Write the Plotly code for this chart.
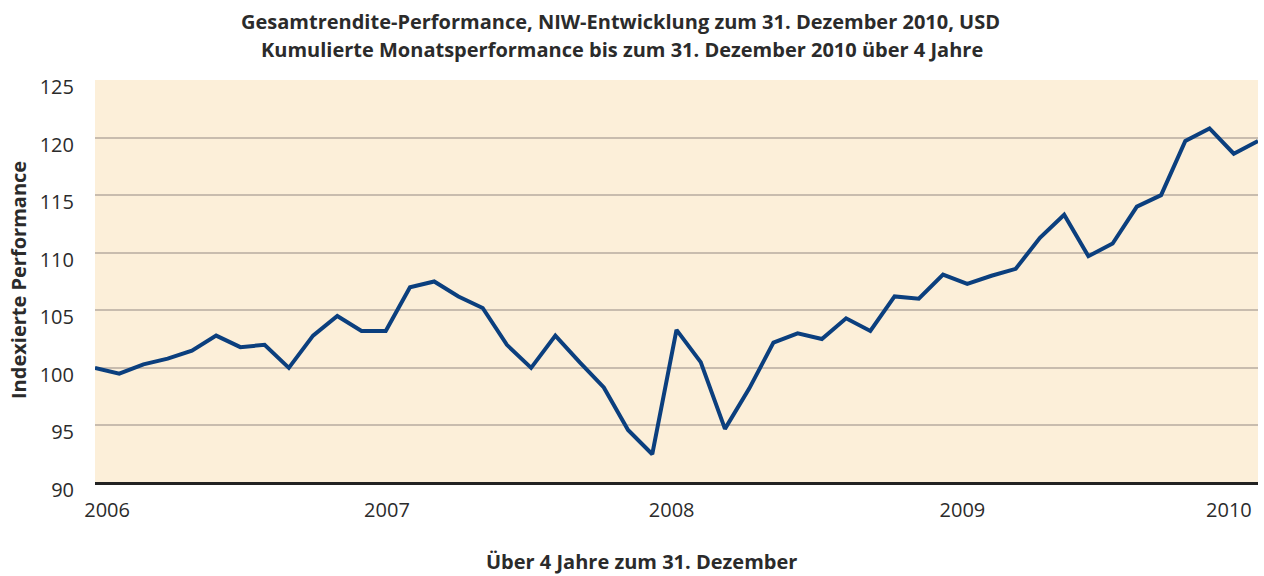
import plotly.graph_objects as go

# Monthly index values, 49 points (start = 100)
months = list(range(49))
performance = [
    100.0, 99.5, 100.3, 100.8, 101.5, 102.8, 101.8, 102.0, 100.0, 102.8,
    104.5, 103.2, 103.2, 107.0, 107.5, 106.2, 105.2, 102.0, 100.0, 102.8,
    100.5, 98.3, 94.6, 92.5, 103.3, 100.5, 94.7, 98.2, 102.2, 103.0,
    102.5, 104.3, 103.2, 106.2, 106.0, 108.1, 107.3, 108.0, 108.6, 111.3,
    113.3, 109.7, 110.8, 114.0, 115.0, 119.7, 120.8, 118.6, 119.7,
]
year_labels = ["2006", "2007", "2008", "2009", "2010"]
year_tick_pos = [0.5, 12.05, 23.8, 35.8, 46.8]
y_ticks = [90, 95, 100, 105, 110, 115, 120, 125]

FONT = "Open Sans"
TXT = "#2b2b2b"

fig = go.Figure()
fig.add_trace(go.Scatter(
    x=months, y=performance, mode="lines",
    line=dict(color="#0b3f7e", width=4),
    hoverinfo="skip", showlegend=False,
))

fig.update_layout(
    width=1264, height=576,
    margin=dict(l=95, r=6, t=80, b=93),
    paper_bgcolor="white",
    plot_bgcolor="#fcefd9",
    font=dict(family=FONT, size=19, color=TXT),
    xaxis=dict(
        range=[0, 48], tickmode="array", tickvals=year_tick_pos, ticktext=year_labels,
        showgrid=False, zeroline=False, showline=True, linecolor="#222222", linewidth=2,
        ticks="", ticklen=0, tickfont=dict(size=20, color=TXT),
        ticklabelstandoff=8,
    ),
    yaxis=dict(
        range=[90, 125], tickmode="array", tickvals=y_ticks,
        showgrid=True, gridcolor="#c8bcae", gridwidth=1.5, zeroline=False,
        showline=False, ticks="", tickfont=dict(size=20, color=TXT),
        ticklabelstandoff=20, ticklabelshift=7,
    ),
    shapes=[dict(type="line", xref="paper", yref="y", x0=0, x1=1, y0=90, y1=90,
                 line=dict(color="#222222", width=2), layer="above")],
    annotations=[
        dict(text="<b>Gesamtrendite-Performance, NIW-Entwicklung zum 31. Dezember 2010, USD</b>",
             x=620, y=22, xref="paper", yref="paper", showarrow=False,
             font=dict(size=20, color=TXT), xanchor="center", yanchor="middle"),
        dict(text="<b>Kumulierte Monatsperformance bis zum 31. Dezember 2010 über 4 Jahre</b>",
             x=622, y=50, xref="paper", yref="paper", showarrow=False,
             font=dict(size=20, color=TXT), xanchor="center", yanchor="middle"),
        dict(text="<b>Über 4 Jahre zum 31. Dezember</b>",
             x=641, y=561, xref="paper", yref="paper", showarrow=False,
             font=dict(size=20, color=TXT), xanchor="center", yanchor="middle"),
        dict(text="<b>Indexierte Performance</b>", textangle=-90,
             x=18, y=280, xref="paper", yref="paper", showarrow=False,
             font=dict(size=20, color=TXT), xanchor="center", yanchor="middle"),
    ],
)

# convert pixel positions of annotations to paper coords
plot_w = 1264 - 95 - 6
plot_h = 576 - 80 - 93
for a in fig.layout.annotations:
    a.x = (a.x - 95) / plot_w
    a.y = 1 - (a.y - 80) / plot_h

fig.write_html(
    "out.html",
    config={"displayModeBar": False},
    post_script="document.body.style.margin='0';document.body.style.overflow='hidden';",
)
